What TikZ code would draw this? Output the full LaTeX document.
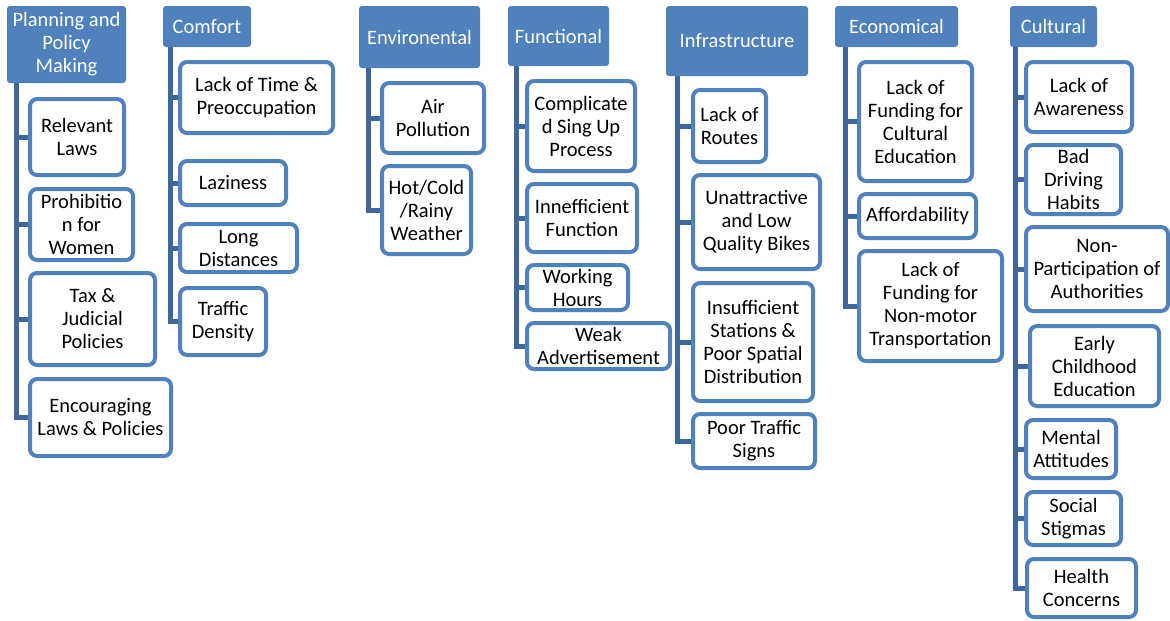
\documentclass[tikz,border=0pt]{standalone}
\usepackage{fontspec}
\setmainfont{Carlito}
\usetikzlibrary{backgrounds}
\definecolor{boxblue}{RGB}{79,129,189}
\definecolor{lineblue}{RGB}{62,103,155}
\tikzset{
  header/.style={fill=boxblue,text=white,rounded corners=3pt,inner sep=0pt,align=center},
  cause/.style={draw=boxblue,line width=4pt,fill=white,rounded corners=7pt,inner sep=0pt,align=center},
  link/.style={draw=lineblue,line width=5pt},
  boxsize/.style 2 args={minimum width=#1pt,minimum height=#2pt}
}
\begin{document}
\begin{tikzpicture}[x=1pt,y=-1pt,font=\fontsize{20.5}{23}\selectfont]
\useasboundingbox (0,0) rectangle (1170,621);
\node[header,boxsize={119}{77}] (plan) at (66.5,44.5) {Planning and\\Policy\\Making};
\node[cause,boxsize={94}{76}] (rel) at (77,137) {Relevant\\Laws};
\node[cause,boxsize={103}{71}] (pro) at (81.5,224.5) {Prohibitio\\n for\\Women};
\node[cause,boxsize={125}{92}] (tax) at (92.5,319) {Tax \&\\Judicial\\Policies};
\node[cause,boxsize={141}{77}] (enc) at (100.5,417.5) {Encouraging\\Laws \& Policies};
\node[header,boxsize={88}{41}] (comf) at (207,26.5) {Comfort};
\node[cause,boxsize={153}{71}] (time) at (256.5,97.5) {Lack of Time \&\\Preoccupation};
\node[cause,boxsize={106}{44}] (lazy) at (233,183) {Laziness};
\node[cause,boxsize={117}{48}] (dist) at (238.5,248) {Long\\Distances};
\node[cause,boxsize={86}{67}] (dens) at (223,321.5) {Traffic\\Density};
\node[header,boxsize={121}{62}] (env) at (419.5,37) {Environental};
\node[cause,boxsize={102}{70}] (air) at (433,118) {Air\\Pollution};
\node[cause,boxsize={89}{88}] (wthr) at (426.5,210) {Hot/Cold\\/Rainy\\Weather};
\node[header,boxsize={101}{60}] (func) at (558.5,36) {Functional};
\node[cause,boxsize={108}{90}] (sign) at (581,126) {Complicate\\d Sing Up\\Process};
\node[cause,boxsize={110}{68}] (ineff) at (582,218) {Innefficient\\Function};
\node[cause,boxsize={101}{45}] (hours) at (577.5,287.5) {Working\\Hours};
\node[cause,boxsize={143}{46}] (adv) at (598.5,346) {Weak\\Advertisement};
\node[header,boxsize={142}{70}] (infra) at (737,41) {Infrastructure};
\node[cause,boxsize={73}{72}] (route) at (729.5,126) {Lack of\\Routes};
\node[cause,boxsize={127}{94}] (bike) at (756.5,222) {Unattractive\\and Low\\Quality Bikes};
\node[cause,boxsize={120}{118}] (stat) at (753,342) {Insufficient\\Stations \&\\Poor Spatial\\Distribution};
\node[cause,boxsize={122}{54}] (trsign) at (754,441) {Poor Traffic\\Signs};
\node[header,boxsize={123}{41}] (econ) at (896.5,26.5) {Economical};
\node[cause,boxsize={113}{119}] (fcult) at (915.5,121.5) {Lack of\\Funding for\\Cultural\\Education};
\node[cause,boxsize={117}{44}] (afford) at (917.5,216) {Affordability};
\node[cause,boxsize={143}{110}] (fnm) at (930.5,306) {Lack of\\Funding for\\Non-motor\\Transportation};
\node[header,boxsize={87}{41}] (cult) at (1053.5,26.5) {Cultural};
\node[cause,boxsize={106}{70}] (aware) at (1079,97) {Lack of\\Awareness};
\node[cause,boxsize={95}{69}] (drive) at (1073.5,179.5) {Bad\\Driving\\Habits};
\node[cause,boxsize={142}{84}] (auth) at (1097,269) {Non-\\Participation of\\Authorities};
\node[cause,boxsize={129}{80}] (early) at (1094.5,366) {Early\\Childhood\\Education};
\node[cause,boxsize={90}{58}] (mental) at (1071,449) {Mental\\Attitudes};
\node[cause,boxsize={95}{53}] (stig) at (1073.5,518.5) {Social\\Stigmas};
\node[cause,boxsize={109}{58}] (health) at (1081.5,588) {Health\\Concerns};
\begin{scope}[on background layer]
\draw[link] ([xshift=10pt]plan.south west) |- (rel.west);
\draw[link] ([xshift=10pt]plan.south west) |- (pro.west);
\draw[link] ([xshift=10pt]plan.south west) |- (tax.west);
\draw[link] ([xshift=10pt]plan.south west) |- (enc.west);
\draw[link] ([xshift=8pt]comf.south west) |- (time.west);
\draw[link] ([xshift=8pt]comf.south west) |- (lazy.west);
\draw[link] ([xshift=8pt]comf.south west) |- (dist.west);
\draw[link] ([xshift=8pt]comf.south west) |- (dens.west);
\draw[link] ([xshift=10pt]env.south west) |- (air.west);
\draw[link] ([xshift=10pt]env.south west) |- (wthr.west);
\draw[link] ([xshift=9pt]func.south west) |- (sign.west);
\draw[link] ([xshift=9pt]func.south west) |- (ineff.west);
\draw[link] ([xshift=9pt]func.south west) |- (hours.west);
\draw[link] ([xshift=9pt]func.south west) |- (adv.west);
\draw[link] ([xshift=12pt]infra.south west) |- (route.west);
\draw[link] ([xshift=12pt]infra.south west) |- (bike.west);
\draw[link] ([xshift=12pt]infra.south west) |- (stat.west);
\draw[link] ([xshift=12pt]infra.south west) |- (trsign.west);
\draw[link] ([xshift=11pt]econ.south west) |- (fcult.west);
\draw[link] ([xshift=11pt]econ.south west) |- (afford.west);
\draw[link] ([xshift=11pt]econ.south west) |- (fnm.west);
\draw[link] ([xshift=6pt]cult.south west) |- (aware.west);
\draw[link] ([xshift=6pt]cult.south west) |- (drive.west);
\draw[link] ([xshift=6pt]cult.south west) |- (auth.west);
\draw[link] ([xshift=6pt]cult.south west) |- (early.west);
\draw[link] ([xshift=6pt]cult.south west) |- (mental.west);
\draw[link] ([xshift=6pt]cult.south west) |- (stig.west);
\draw[link] ([xshift=6pt]cult.south west) |- (health.west);
\end{scope}
\end{tikzpicture}
\end{document}
